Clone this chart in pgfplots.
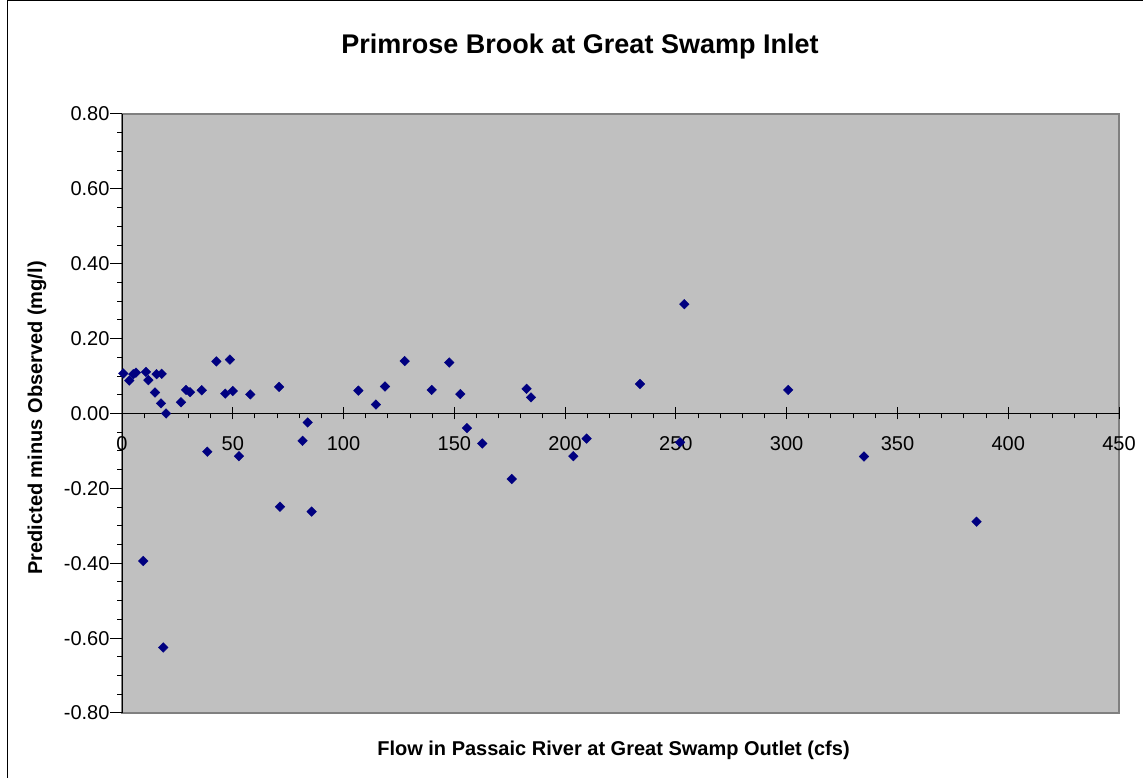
\documentclass[border=0pt]{standalone}
\usepackage{pgfplots}
\pgfplotsset{compat=1.18}
\usepackage{fontspec}
\setmainfont{Liberation Sans}
\definecolor{plotbg}{HTML}{C0C0C0}
\definecolor{plotedge}{HTML}{808080}
\definecolor{navy}{HTML}{000080}
\begin{document}
\begin{tikzpicture}[x=1pt,y=1pt]
\path[use as bounding box] (0,0) rectangle (1143,778);
\draw[black, line width=1pt] (7,-5) rectangle (1150,777);
\begin{axis}[
  at={(122pt,65pt)}, anchor=south west,
  width=997pt, height=599pt, scale only axis,
  xmin=0, xmax=450, ymin=-0.8, ymax=0.8,
  axis x line=middle, axis y line=left,
  axis line style={-, black, line width=1pt},
  axis background/.style={fill=plotbg, draw=plotedge, line width=1.2pt},
  xtick={0,50,...,450}, minor x tick num=4,
  ytick={-0.8,-0.6,-0.4,-0.2,0,0.2,0.4,0.6,0.8}, minor y tick num=3,
  hide obscured x ticks=false,
  tick align=center, major tick length=12pt, minor tick length=5pt,
  every tick/.style={black, line width=1pt},
  minor x tick style={yshift=-2.5pt},
  minor y tick style={xshift=-2.5pt},
  major y tick style={xshift=-6pt},
  yticklabel style={xshift=-3pt, /pgf/number format/fixed, /pgf/number format/fixed zerofill, /pgf/number format/precision=2},
  /pgf/number format/assume math mode=true,
  tick label style={font=\fontsize{20}{22}\selectfont, black},
  xticklabel style={yshift=-14pt},
  clip=false,
]
\addplot[only marks, mark=square*, mark size=3.4pt, mark options={rotate=45, fill=navy, draw=navy}, color=navy] coordinates {
(0.6,0.107)(3.3,0.088)(5.1,0.105)(6.3,0.109)(9.6,-0.394)(10.8,0.111)(11.9,0.089)
(14.9,0.056)(15.6,0.105)(17.6,0.027)(17.9,0.106)(18.6,-0.625)(19.9,0.000)
(26.6,0.030)(28.9,0.063)(30.7,0.057)(36.0,0.062)(38.5,-0.102)(42.6,0.139)
(46.6,0.053)(48.7,0.144)(50.0,0.060)(52.8,-0.114)(57.9,0.051)(70.9,0.071)
(71.3,-0.249)(81.5,-0.073)(83.8,-0.024)(85.6,-0.262)(106.7,0.061)(114.6,0.024)
(118.7,0.072)(127.6,0.140)(139.8,0.063)(147.7,0.136)(152.7,0.052)(155.7,-0.039)
(162.6,-0.080)(175.9,-0.175)(182.6,0.066)(184.6,0.043)(203.7,-0.114)(209.7,-0.067)
(233.8,0.079)(251.9,-0.077)(253.8,0.292)(300.7,0.063)(334.9,-0.115)(385.7,-0.289)
};
\end{axis}
\node[font=\fontsize{27}{30}\selectfont\bfseries] at (580,731) {Primrose Brook at Great Swamp Inlet};
\node[font=\fontsize{20}{22}\selectfont\bfseries] at (613.5,28) {Flow in Passaic River at Great Swamp Outlet (cfs)};
\node[font=\fontsize{20}{22}\selectfont\bfseries, rotate=90] at (37,360) {Predicted minus Observed (mg/l)};
\end{tikzpicture}
\end{document}
